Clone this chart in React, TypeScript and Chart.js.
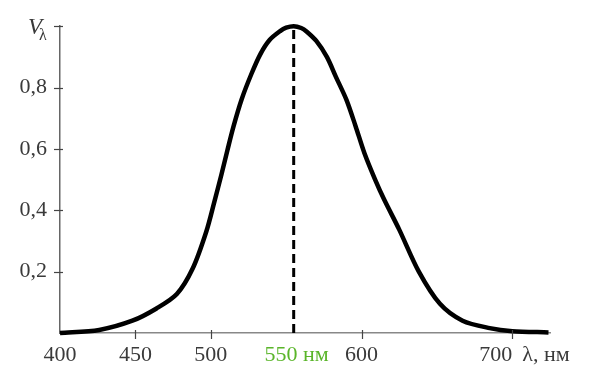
import React, { useEffect, useRef } from "react";
import { Chart, registerables } from "chart.js";

Chart.register(...registerables);

const wavelengths = [400, 426, 448, 464, 477.5, 488, 497, 502.5, 507, 511, 515, 520.5, 527, 533, 539, 546, 550, 555, 560, 563.5, 570, 577, 583, 590, 596, 602, 609, 615, 625, 638, 652, 667, 685, 700, 724];
const sensitivity = [0, 0.01, 0.04, 0.08, 0.127, 0.21, 0.33, 0.43, 0.515, 0.595, 0.672, 0.762, 0.845, 0.91, 0.955, 0.984, 0.995, 1.0, 0.994, 0.983, 0.952, 0.9, 0.835, 0.76, 0.675, 0.585, 0.5, 0.435, 0.337, 0.2, 0.095, 0.04, 0.016, 0.006, 0.002];
const peakWavelength = 555;
const xTickValues = [400, 450, 500, 555, 600, 700];
const xTickLabels = ["400", "450", "500", "550 нм", "600", "700"];
const yTickValues = [0.2, 0.4, 0.6, 0.8, 1.0];
const yTickLabels = ["0,2", "0,4", "0,6", "0,8", ""];
const yAxisTitle = "V";
const yAxisSub = "λ";
const xAxisTitle = "λ, нм";

const FONT = "'Liberation Serif', 'Times New Roman', Times, serif";
const TEXT = "#3a3a3a";
const GREEN = "#5ab52a";

const axisPlugin = {
  id: "axisDecor",
  afterDraw(chart: any) {
    const { ctx } = chart;
    const x = chart.scales.x;
    const y = chart.scales.y;
    ctx.save();
    ctx.strokeStyle = "#444";
    ctx.lineWidth = 1.2;
    yTickValues.forEach((v) => {
      const py = Math.round(y.getPixelForValue(v)) + 0.5;
      ctx.beginPath();
      ctx.moveTo(x.left - 6, py);
      ctx.lineTo(x.left + 3, py);
      ctx.stroke();
    });
    xTickValues.forEach((v) => {
      if (v === 400 || v === peakWavelength) return;
      const px = Math.round(x.getPixelForValue(v)) + 0.5;
      ctx.beginPath();
      ctx.moveTo(px, y.bottom - 3);
      ctx.lineTo(px, y.bottom + 6);
      ctx.stroke();
    });
    ctx.font = `22px ${FONT}`;
    ctx.textBaseline = "alphabetic";
    const base = y.bottom + 28;
    xTickValues.forEach((v, i) => {
      const px = x.getPixelForValue(v);
      const last = i === xTickValues.length - 1;
      ctx.fillStyle = v === peakWavelength ? GREEN : TEXT;
      ctx.textAlign = last ? "right" : "center";
      ctx.fillText(xTickLabels[i], v === peakWavelength ? px + 3 : px, base);
    });
    ctx.fillStyle = TEXT;
    ctx.textAlign = "left";
    ctx.fillText(xAxisTitle, x.getPixelForValue(700) + 10, base);
    const ty = y.getPixelForValue(1.0);
    ctx.font = `italic 23px ${FONT}`;
    ctx.textAlign = "right";
    ctx.fillText(yAxisTitle, x.left - 18, ty + 8);
    ctx.font = `16px ${FONT}`;
    ctx.textAlign = "left";
    ctx.fillText(yAxisSub, x.left - 21, ty + 14);
    ctx.restore();
  },
};

export default function App() {
  const ref = useRef<HTMLCanvasElement | null>(null);
  useEffect(() => {
    let chart: any = null;
    let cancelled = false;
    const build = () => {
      if (cancelled || !ref.current) return;
      chart = new Chart(ref.current, {
        type: "line",
        data: {
          datasets: [
            {
              data: wavelengths.map((w, i) => ({ x: w, y: sensitivity[i] })),
              borderColor: "#000",
              borderWidth: 4.5,
              pointRadius: 0,
              tension: 0.3,
              fill: false,
              clip: 12,
            },
            {
              data: [
                { x: peakWavelength, y: 0 },
                { x: peakWavelength, y: 1.0 },
              ],
              borderColor: "#000",
              borderWidth: 3,
              borderDash: [9, 5],
              pointRadius: 0,
              fill: false,
            },
          ],
        },
        options: {
          animation: false,
          responsive: true,
          maintainAspectRatio: false,
          layout: { padding: { top: 20, right: 50, left: 0, bottom: 0 } },
          plugins: { legend: { display: false }, tooltip: { enabled: false } },
          scales: {
            x: {
              type: "linear",
              min: 400,
              max: 725,
              grid: { display: false, drawTicks: false },
              border: { display: true, color: "#888", width: 1.5 },
              ticks: { display: false },
              afterFit: (s: any) => {
                s.height = 57;
              },
            },
            y: {
              type: "linear",
              min: 0,
              max: 1.0,
              grid: { display: false, drawTicks: false },
              border: { display: true, color: "#666", width: 1.5 },
              afterBuildTicks: (s: any) => {
                s.ticks = yTickValues.map((v) => ({ value: v }));
              },
              afterFit: (s: any) => {
                s.width = 60;
              },
              ticks: {
                padding: 13,
                color: TEXT,
                font: { family: FONT, size: 22 },
                callback: (v: any) => {
                  const i = yTickValues.findIndex((t) => Math.abs(t - Number(v)) < 1e-6);
                  return i >= 0 ? yTickLabels[i] : "";
                },
              },
            },
          },
        },
        plugins: [axisPlugin],
      });
    };
    const fonts: any = (document as any).fonts;
    if (fonts && fonts.load) {
      Promise.all([
        fonts.load(`22px "Liberation Serif"`, "0123456789λнм"),
        fonts.load(`italic 23px "Liberation Serif"`, "V"),
      ])
        .catch(() => null)
        .then(build);
    } else {
      build();
    }
    return () => {
      cancelled = true;
      if (chart) chart.destroy();
    };
  }, []);
  return (
    <div style={{ position: "fixed", left: 0, top: 0, width: 600, height: 390, background: "#fff" }}>
      <canvas ref={ref} />
    </div>
  );
}
